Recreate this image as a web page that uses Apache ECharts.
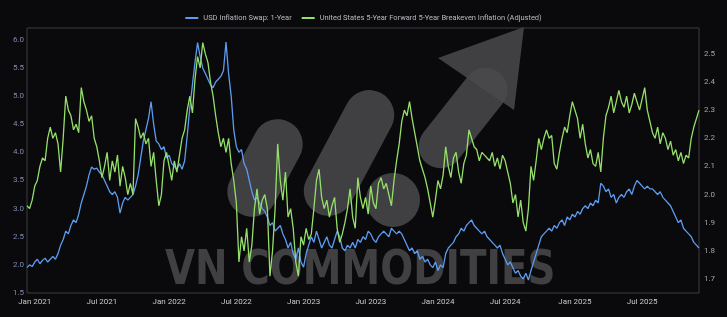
<!DOCTYPE html>
<html><head><meta charset="utf-8">
<script src="https://cdn.jsdelivr.net/npm/echarts@6/dist/echarts.min.js"></script>
<style>html,body{margin:0;padding:0;background:#0a0a0c;}#c{width:727px;height:317px;}</style>
</head><body><div id="c"></div>
<script>
// Weekly observations starting 2020-12-14
const startDate = '2020-12-14';
const weekCount = 261;
const seriesNames = ['USD Inflation Swap: 1-Year', 'United States 5-Year Forward 5-Year Breakeven Inflation (Adjusted)'];
const leftTicks = [1.5, 2.0, 2.5, 3.0, 3.5, 4.0, 4.5, 5.0, 5.5, 6.0];
const rightTicks = [1.7, 1.8, 1.9, 2.0, 2.1, 2.2, 2.3, 2.4, 2.5];
const usdSwap1y = [
1.95,2.0,1.97,2.05,2.1,2.02,2.08,2.12,2.05,2.1,
2.15,2.1,2.2,2.35,2.45,2.6,2.55,2.7,2.8,2.75,
2.9,3.1,3.25,3.4,3.6,3.74,3.7,3.72,3.65,3.6,
3.5,3.4,3.3,3.25,3.3,3.2,2.92,3.1,3.2,3.15,
3.2,3.25,3.4,3.6,3.9,4.2,4.4,4.6,4.9,4.5,
4.2,4.15,4.05,4.1,3.9,3.95,3.8,3.75,3.7,3.8,
3.7,3.85,4.3,4.8,5.2,5.6,5.95,5.7,5.5,5.4,
5.3,5.2,5.15,5.25,5.3,5.35,5.45,5.96,5.4,5.0,
4.4,4.1,4.0,4.05,3.8,3.7,3.5,3.3,3.15,3.2,
3.1,3.0,2.95,2.85,2.7,2.75,2.6,2.65,2.7,2.55,
2.45,2.3,2.4,2.2,2.1,2.3,2.05,1.96,2.2,2.35,
2.5,2.4,2.6,2.45,2.3,2.4,2.5,2.35,2.3,2.45,
2.6,2.5,2.3,2.25,2.35,2.3,2.4,2.3,2.45,2.4,
2.5,2.45,2.6,2.55,2.45,2.4,2.5,2.55,2.6,2.55,
2.5,2.65,2.6,2.55,2.6,2.55,2.45,2.35,2.25,2.3,
2.2,2.25,2.1,2.15,2.05,2.1,2.0,1.95,2.05,1.9,
2.0,1.95,2.2,2.3,2.35,2.4,2.5,2.55,2.65,2.6,
2.7,2.75,2.8,2.7,2.65,2.6,2.55,2.6,2.5,2.45,
2.4,2.35,2.3,2.35,2.2,2.1,2.0,2.05,1.95,1.85,
1.9,1.8,1.75,1.85,1.73,1.9,2.05,2.2,2.35,2.5,
2.55,2.6,2.65,2.6,2.7,2.65,2.75,2.8,2.7,2.85,
2.8,2.9,2.85,2.95,2.9,3.0,3.05,3.0,3.1,3.05,
3.15,3.1,3.45,3.4,3.3,3.35,3.2,3.25,3.1,3.2,
3.25,3.2,3.3,3.35,3.25,3.4,3.5,3.45,3.4,3.35,
3.4,3.35,3.35,3.3,3.25,3.3,3.2,3.15,3.1,3.05,
2.95,2.85,2.75,2.8,2.65,2.6,2.55,2.5,2.4,2.35,2.3
];
const us5y5y = [
1.96,1.95,1.98,2.03,2.05,2.1,2.13,2.12,2.2,2.24,
2.2,2.22,2.18,2.08,2.2,2.35,2.3,2.28,2.23,2.25,
2.22,2.38,2.33,2.3,2.26,2.28,2.2,2.17,2.12,2.06,
2.1,2.15,2.05,2.12,2.08,2.14,2.03,2.1,2.06,2.0,
2.04,2.0,2.27,2.24,2.2,2.22,2.18,2.2,2.1,2.15,
2.05,1.96,2.0,2.12,2.15,2.1,2.05,2.12,2.08,2.14,
2.2,2.23,2.3,2.35,2.29,2.41,2.49,2.45,2.54,2.5,
2.47,2.4,2.35,2.28,2.22,2.17,2.2,2.15,2.2,2.11,
2.05,1.97,1.76,1.85,1.8,1.88,1.76,1.82,1.95,2.02,
1.93,1.98,2.0,1.95,1.71,1.8,1.95,2.18,2.05,1.98,
2.08,1.92,1.95,1.88,1.76,1.71,1.85,1.82,1.88,1.84,
1.86,1.95,2.05,2.09,1.99,1.95,1.98,1.92,1.96,1.99,
1.88,1.83,1.86,1.9,1.95,2.02,1.92,1.88,2.06,1.99,
1.95,1.99,1.93,2.03,1.97,1.95,2.04,2.06,2.02,2.04,
2.0,1.96,2.05,2.12,2.18,2.26,2.3,2.28,2.33,2.27,
2.22,2.17,2.12,2.09,2.06,2.02,1.97,1.92,1.98,2.05,
2.02,2.07,2.17,2.1,2.06,2.13,2.15,2.08,2.04,2.11,
2.14,2.23,2.2,2.17,2.16,2.12,2.15,2.14,2.13,2.12,
2.15,2.1,2.13,2.09,2.14,2.12,2.08,2.04,1.97,2.0,
1.92,1.98,1.9,1.87,1.95,2.1,2.05,2.12,2.2,2.16,
2.2,2.23,2.2,2.21,2.11,2.09,2.15,2.2,2.24,2.22,
2.28,2.33,2.3,2.27,2.2,2.25,2.18,2.13,2.16,2.11,
2.1,2.15,2.08,2.2,2.28,2.31,2.35,2.29,2.33,2.37,
2.33,2.31,2.35,2.29,2.32,2.36,2.33,2.3,2.34,2.38,
2.3,2.26,2.22,2.2,2.24,2.18,2.22,2.2,2.16,2.19,
2.14,2.16,2.12,2.15,2.11,2.14,2.13,2.2,2.24,2.27,2.3
];
const monthNames = ['Jan','Feb','Mar','Apr','May','Jun','Jul','Aug','Sep','Oct','Nov','Dec'];

const dates = [];
{
  const t0 = Date.parse(startDate + 'T00:00:00Z');
  for (let i = 0; i < weekCount; i++) {
    const d = new Date(t0 + i * 7 * 86400000);
    dates.push(d.toISOString().slice(0, 10));
  }
}
function isHalfYearStart(s) {
  const m = +s.slice(5, 7), d = +s.slice(8, 10);
  return (m === 1 || m === 7) && d <= 7;
}
function fmtDate(s) {
  return monthNames[+s.slice(5, 7) - 1] + ' ' + s.slice(0, 4);
}
function near(v, arr) { return arr.some(t => Math.abs(t - v) < 1e-6); }

const chart = echarts.init(document.getElementById('c'), null, {renderer: 'canvas'});
const wm = 'rgba(74,74,76,0.85)';
chart.setOption({
  backgroundColor: '#0a0a0c',
  animation: false,
  legend: {
    top: 9, left: 'center', itemWidth: 13, itemHeight: 2, itemGap: 10, icon: 'rect',
    textStyle: {color: '#b8b8c0', fontSize: 7.5, fontFamily: 'Roboto'},
    data: seriesNames
  },
  grid: {left: 27, right: 28, top: 28, bottom: 24, show: true, borderColor: '#3c3c40', borderWidth: 1, backgroundColor: 'transparent'},
  graphic: [
    {type: 'rect', z: -1, x: 265, y: 168, rotation: 1.08, shape: {x: -52, y: -25, width: 104, height: 50, r: 25}, style: {fill: wm}},
    {type: 'rect', z: -1, x: 349, y: 153, rotation: 1.08, shape: {x: -68, y: -25, width: 136, height: 50, r: 25}, style: {fill: wm}},
    {type: 'circle', z: -1, shape: {cx: 393, cy: 200, r: 27}, style: {fill: wm}},
    {type: 'rect', z: -1, x: 463, y: 118, rotation: 0.9, shape: {x: -58, y: -22, width: 116, height: 44, r: 22}, style: {fill: wm}},
    {type: 'polygon', z: -1, shape: {points: [[438, 58], [524, 27], [514, 110]]}, style: {fill: wm}},
    {type: 'text', z: -1, x: 165, y: 248, scaleX: 0.81, style: {text: 'VN COMMODITIES', fill: wm, font: 'bold 48px "DejaVu Sans"'}}
  ],
  xAxis: {
    type: 'category', data: dates, boundaryGap: false,
    axisLine: {show: false}, axisTick: {show: false}, splitLine: {show: false},
    axisLabel: {
      color: '#c8c8cc', fontSize: 8, margin: 5, fontFamily: 'Roboto',
      interval: (idx, val) => isHalfYearStart(val),
      formatter: v => fmtDate(v)
    }
  },
  yAxis: [
    {type: 'value', min: 1.5, max: 6.21, interval: 0.5, position: 'left',
     axisLine: {show: false}, axisTick: {show: false}, splitLine: {show: false},
     axisLabel: {color: '#8088b0', fontSize: 8, margin: 3, fontFamily: 'Roboto',
       formatter: v => near(v, leftTicks) ? v.toFixed(1) : ''}},
    {type: 'value', min: 1.65, max: 2.592, interval: 0.05, position: 'right',
     axisLine: {show: false}, axisTick: {show: false}, splitLine: {show: false},
     axisLabel: {color: '#a0a8a0', fontSize: 8, margin: 5, fontFamily: 'Roboto',
       formatter: v => near(v, rightTicks) ? v.toFixed(1) : ''}}
  ],
  series: [
    {name: seriesNames[0], type: 'line', yAxisIndex: 0, data: usdSwap1y, showSymbol: false,
     lineStyle: {color: '#5c9cf0', width: 1.3}, itemStyle: {color: '#5c9cf0'}},
    {name: seriesNames[1], type: 'line', yAxisIndex: 1, data: us5y5y, showSymbol: false,
     lineStyle: {color: '#95e06a', width: 1.3}, itemStyle: {color: '#95e06a'}}
  ]
});
</script>
</body></html>
